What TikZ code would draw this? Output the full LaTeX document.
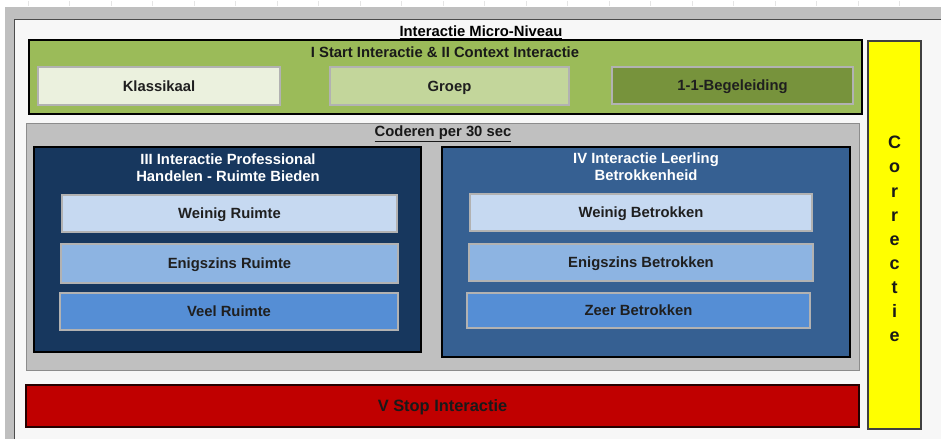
\documentclass[tikz,border=0pt]{standalone}
\usepackage{fontspec}
\setmainfont{Liberation Sans}
\usepackage{tikz}
\definecolor{groen}{HTML}{9BBB59}
\definecolor{klas}{HTML}{EBF1DE}
\definecolor{groep}{HTML}{C3D69B}
\definecolor{begel}{HTML}{77933C}
\definecolor{navyA}{HTML}{17375E}
\definecolor{navyB}{HTML}{366092}
\definecolor{blauwA}{HTML}{C6D9F1}
\definecolor{blauwB}{HTML}{8DB4E2}
\definecolor{blauwC}{HTML}{558ED5}
\definecolor{rood}{HTML}{C00000}
\definecolor{geel}{HTML}{FFFF00}
\definecolor{grijs}{HTML}{C0C0C0}
\definecolor{paneel}{HTML}{F7F7F7}
\definecolor{balk}{HTML}{BFBFBF}
\newcommand{\lett}{\fontsize{14.8}{17}\selectfont\bfseries}
\tikzset{
	vak/.style={anchor=north west, inner sep=0pt, outer sep=0pt},
	kader/.style={vak, draw=black, line width=2.8pt},
	knop/.style={vak, draw=black!30, line width=2pt, text=black!88, font=\lett, text height=10.6pt, text depth=0pt},
	kop/.style={inner sep=0pt, font=\lett, align=center}
}

\begin{document}
\begin{tikzpicture}[x=1pt, y=-1pt]
\useasboundingbox (0,0) rectangle (941,439);
	%ruler and sheet
	\foreach \x in {28,69.5,...,941}
		\draw[black!10, line width=0.8pt] (\x,1) -- (\x,6);
	\fill[balk] (5,7) rectangle (941,19);
	\fill[balk] (5,7) rectangle (14,439);
	\fill[paneel] (14,19) rectangle (941,439);
	\draw[black!70, line width=1pt] (14,439) -- (14,19) -- (941,19);

	\node[kop] (titel) at (481,32) {\underline{Interactie Micro-Niveau}};

	%start & context
	\node[kader, fill=groen, minimum width=833pt, minimum height=74pt] (start) at (29,40) {};
	\node[kop, text=black!90] (starttitel) at (445,52) {I Start Interactie \& II Context Interactie};
	\node[knop, fill=klas, minimum width=242pt, minimum height=38pt] (klassikaal) at (38,67) {Klassikaal};
	\node[knop, fill=groep, minimum width=239pt, minimum height=38pt] (groep) at (330,67) {Groep};
	\node[knop, fill=begel, minimum width=241pt, minimum height=37pt] (begel) at (612,67) {1-1-Begeleiding};

	%correctie
	\node[vak, draw=black!75, line width=2pt, fill=geel, minimum width=53pt, minimum height=388pt] (correctie) at (868,41) {};
	\node[align=center, inner sep=0pt, yshift=-4pt, font=\fontsize{18}{24.1}\selectfont\bfseries, text=black!90] (corrtekst) at (correctie.center)
		{C\\o\\r\\r\\e\\c\\t\\i\\e};

	%coderen
	\node[vak, draw=black!45, line width=1pt, fill=grijs, minimum width=833pt, minimum height=247pt] (coderen) at (26,123) {};
	\node[kop, text=black!90] (codtitel) at (443,134) {\underline{Coderen per 30 sec}};

	%III professional
	\node[kader, fill=navyA, minimum width=387pt, minimum height=205pt] (prof) at (34,147) {};
	\node[kop, text=white] (proftitel) at (228,167.5) {III Interactie Professional\\Handelen - Ruimte Bieden};
	\node[knop, fill=blauwA, minimum width=335pt, minimum height=37pt] (weinigR) at (62,195) {Weinig Ruimte};
	\node[knop, fill=blauwB, minimum width=337pt, minimum height=39pt] (enigR) at (61,244) {Enigszins Ruimte};
	\node[knop, fill=blauwC, minimum width=338pt, minimum height=37pt] (veelR) at (60,293) {Veel Ruimte};

	%IV leerling
	\node[kader, fill=navyB, minimum width=408pt, minimum height=210pt] (leerling) at (442,147) {};
	\node[kop, text=white] (leertitel) at (646,166.5) {IV Interactie Leerling\\Betrokkenheid};
	\node[knop, fill=blauwA, minimum width=342pt, minimum height=37pt] (weinigB) at (470,194) {Weinig Betrokken};
	\node[knop, fill=blauwB, minimum width=344pt, minimum height=37pt] (enigB) at (469,244) {Enigszins Betrokken};
	\node[knop, fill=blauwC, minimum width=343pt, minimum height=35pt] (zeerB) at (467,293) {Zeer Betrokken};

	%stop
	\node[vak, draw=black!80!rood, line width=2pt, fill=rood, minimum width=833pt, minimum height=42pt,
		font=\fontsize{16.4}{19}\selectfont\bfseries, text height=11.8pt, text depth=0pt, text=black!90] (stop) at (26,385) {V Stop Interactie};
\end{tikzpicture}
\end{document}
